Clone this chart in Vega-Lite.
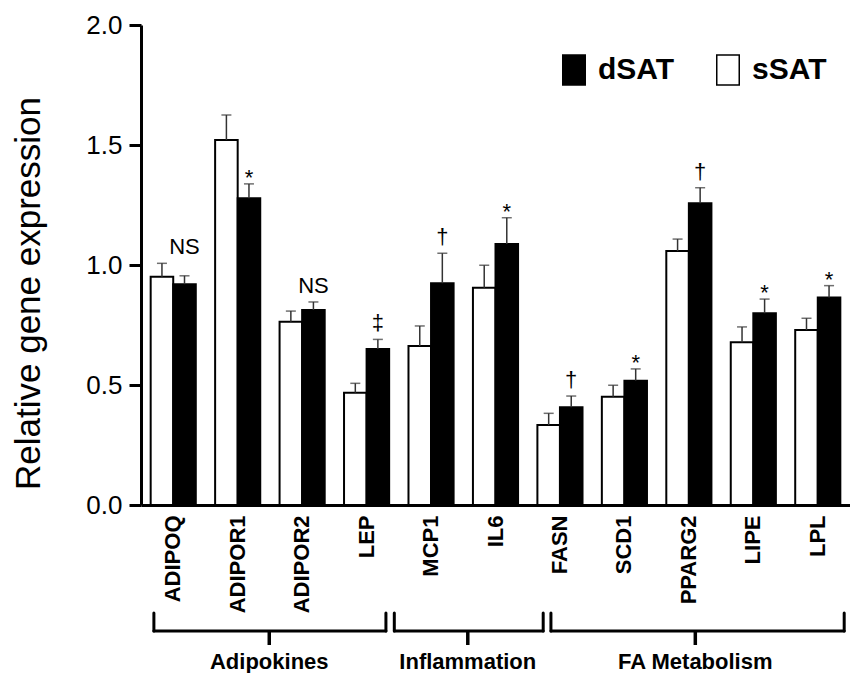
{
  "$schema": "https://vega.github.io/schema/vega-lite/v6.json",
  "autosize": {"type": "pad"},
  "padding": {"left": 10, "top": 12, "right": 0, "bottom": 0},
  "background": "white",
  "config": {"view": {"stroke": null}, "font": "Liberation Sans"},
  "spacing": 108,
  "bounds": "flush",
  "resolve": {"scale": {"x": "independent", "y": "independent"}},
  "datasets": {
    "expr": [
      {"gene": "ADIPOQ", "tissue": "sSAT", "value": 0.951, "upper": 1.007, "sig": ""},
      {"gene": "ADIPOQ", "tissue": "dSAT", "value": 0.920, "upper": 0.955, "sig": "NS"},
      {"gene": "ADIPOR1", "tissue": "sSAT", "value": 1.521, "upper": 1.625, "sig": ""},
      {"gene": "ADIPOR1", "tissue": "dSAT", "value": 1.278, "upper": 1.338, "sig": "*"},
      {"gene": "ADIPOR2", "tissue": "sSAT", "value": 0.764, "upper": 0.808, "sig": ""},
      {"gene": "ADIPOR2", "tissue": "dSAT", "value": 0.8125, "upper": 0.846, "sig": "NS"},
      {"gene": "LEP", "tissue": "sSAT", "value": 0.468, "upper": 0.507, "sig": ""},
      {"gene": "LEP", "tissue": "dSAT", "value": 0.650, "upper": 0.690, "sig": "‡"},
      {"gene": "MCP1", "tissue": "sSAT", "value": 0.6625, "upper": 0.746, "sig": ""},
      {"gene": "MCP1", "tissue": "dSAT", "value": 0.924, "upper": 1.049, "sig": "†"},
      {"gene": "IL6", "tissue": "sSAT", "value": 0.905, "upper": 0.999, "sig": ""},
      {"gene": "IL6", "tissue": "dSAT", "value": 1.0875, "upper": 1.197, "sig": "*"},
      {"gene": "FASN", "tissue": "sSAT", "value": 0.333, "upper": 0.382, "sig": ""},
      {"gene": "FASN", "tissue": "dSAT", "value": 0.407, "upper": 0.454, "sig": "†"},
      {"gene": "SCD1", "tissue": "sSAT", "value": 0.451, "upper": 0.499, "sig": ""},
      {"gene": "SCD1", "tissue": "dSAT", "value": 0.518, "upper": 0.567, "sig": "*"},
      {"gene": "PPARG2", "tissue": "sSAT", "value": 1.058, "upper": 1.108, "sig": ""},
      {"gene": "PPARG2", "tissue": "dSAT", "value": 1.257, "upper": 1.322, "sig": "†"},
      {"gene": "LIPE", "tissue": "sSAT", "value": 0.678, "upper": 0.742, "sig": ""},
      {"gene": "LIPE", "tissue": "dSAT", "value": 0.799, "upper": 0.858, "sig": "*"},
      {"gene": "LPL", "tissue": "sSAT", "value": 0.729, "upper": 0.778, "sig": ""},
      {"gene": "LPL", "tissue": "dSAT", "value": 0.865, "upper": 0.914, "sig": "*"}
    ],
    "groups": [
      {"group": "Adipokines", "start": 0.2, "end": 3.8, "mid": 1.99},
      {"group": "Inflammation", "start": 3.93, "end": 6.24, "mid": 5.07},
      {"group": "FA Metabolism", "start": 6.36, "end": 10.91, "mid": 8.6}
    ]
  },
  "vconcat": [
    {
      "width": 709,
      "height": 480,
      "data": {"name": "expr"},
      "encoding": {
        "x": {
          "field": "gene", "type": "nominal",
          "sort": ["ADIPOQ","ADIPOR1","ADIPOR2","LEP","MCP1","IL6","FASN","SCD1","PPARG2","LIPE","LPL"],
          "scale": {"paddingInner": 0.3, "paddingOuter": 0.15},
          "title": null,
          "axis": {
            "labelAngle": -90, "labelAlign": "right", "labelBaseline": "middle",
            "labelFont": "Liberation Sans", "labelFontSize": 22, "labelFontWeight": "bold",
            "labelColor": "black", "labelPadding": 10, "labelLimit": 0,
            "ticks": false, "domainColor": "black", "domainWidth": 3, "grid": false
          }
        },
        "xOffset": {"field": "tissue", "type": "nominal", "sort": ["sSAT", "dSAT"]}
      },
      "layer": [
        {
          "mark": {"type": "bar", "stroke": "black", "strokeWidth": 2},
          "encoding": {
            "y": {
              "field": "value", "type": "quantitative",
              "scale": {"domain": [0, 2], "nice": false},
              "title": "Relative gene expression",
              "axis": {
                "values": [0, 0.5, 1, 1.5, 2], "format": ".1f", "grid": false,
                "labelFont": "Liberation Sans", "labelFontSize": 26, "labelColor": "black",
                "labelPadding": 7, "tickSize": 12, "tickWidth": 3, "tickColor": "black",
                "domainColor": "black", "domainWidth": 3,
                "titleFont": "Liberation Sans", "titleFontSize": 35, "titleFontWeight": "normal",
                "titleColor": "black", "titleX": -102, "titleY": 268, "titleAngle": -90,
                "titleAlign": "center", "titleBaseline": "alphabetic"
              }
            },
            "color": {
              "field": "tissue", "type": "nominal",
              "scale": {"domain": ["dSAT", "sSAT"], "range": ["black", "white"]},
              "legend": {
                "orient": "none", "legendX": 418, "legendY": 30, "direction": "horizontal",
                "title": null, "padding": 0,
                "symbolType": "M-1,-1.333L1,-1.333L1,1.333L-1,1.333Z", "symbolSize": 506,
                "symbolStrokeColor": "black", "symbolStrokeWidth": 1.5,
                "labelFont": "Liberation Sans", "labelFontSize": 30, "labelFontWeight": "bold",
                "labelColor": "black", "labelOffset": 9, "columnPadding": 38, "labelLimit": 0
              }
            }
          }
        },
        {
          "mark": {"type": "rule", "color": "#333333", "strokeWidth": 1.5},
          "encoding": {
            "y": {"field": "value", "type": "quantitative", "title": "Relative gene expression"},
            "y2": {"field": "upper"}
          }
        },
        {
          "mark": {"type": "tick", "color": "#333333", "thickness": 1.5, "size": 10, "orient": "horizontal"},
          "encoding": {
            "y": {"field": "upper", "type": "quantitative", "title": "Relative gene expression"}
          }
        },
        {
          "transform": [
            {"joinaggregate": [{"op": "max", "field": "upper", "as": "maxupper"}], "groupby": ["gene"]},
            {"filter": "datum.tissue === 'dSAT' && datum.sig !== '*'"}
          ],
          "mark": {"type": "text", "font": "Liberation Sans", "fontSize": 22, "color": "black", "baseline": "alphabetic", "dy": -9},
          "encoding": {
            "y": {"field": "maxupper", "type": "quantitative", "title": "Relative gene expression"},
            "text": {"field": "sig"}
          }
        },
        {
          "transform": [{"filter": "datum.tissue === 'dSAT' && datum.sig === '*'"}],
          "mark": {"type": "text", "font": "Liberation Sans", "fontSize": 22, "color": "black", "baseline": "alphabetic", "dy": 1},
          "encoding": {
            "y": {"field": "upper", "type": "quantitative", "title": "Relative gene expression"},
            "text": {"field": "sig"}
          }
        }
      ]
    },
    {
      "width": 709,
      "height": 60,
      "data": {"name": "groups"},
      "encoding": {
        "x": {"field": "start", "type": "quantitative", "scale": {"domain": [0, 11], "nice": false, "zero": false}, "axis": null}
      },
      "layer": [
        {
          "mark": {"type": "rule", "color": "black", "strokeWidth": 3, "strokeCap": "round"},
          "encoding": {
            "x2": {"field": "end"},
            "y": {"datum": 18, "type": "quantitative", "scale": {"domain": [0, 60], "reverse": true, "nice": false, "zero": false}, "axis": null}
          }
        },
        {
          "mark": {"type": "rule", "color": "black", "strokeWidth": 3, "strokeCap": "round"},
          "encoding": {
            "y": {"datum": 0, "type": "quantitative", "axis": null},
            "y2": {"datum": 18}
          }
        },
        {
          "mark": {"type": "rule", "color": "black", "strokeWidth": 3, "strokeCap": "round"},
          "encoding": {
            "x": {"field": "end", "type": "quantitative", "axis": null},
            "y": {"datum": 0, "type": "quantitative", "axis": null},
            "y2": {"datum": 18}
          }
        },
        {
          "mark": {"type": "rule", "color": "black", "strokeWidth": 3.5},
          "encoding": {
            "x": {"field": "mid", "type": "quantitative", "axis": null},
            "y": {"datum": 18, "type": "quantitative", "axis": null},
            "y2": {"datum": 32}
          }
        },
        {
          "mark": {"type": "text", "font": "Liberation Sans", "fontSize": 22, "fontWeight": "bold", "color": "black", "baseline": "middle", "align": "center"},
          "encoding": {
            "x": {"field": "mid", "type": "quantitative", "axis": null},
            "y": {"datum": 49, "type": "quantitative", "axis": null},
            "text": {"field": "group"}
          }
        }
      ]
    }
  ]
}
